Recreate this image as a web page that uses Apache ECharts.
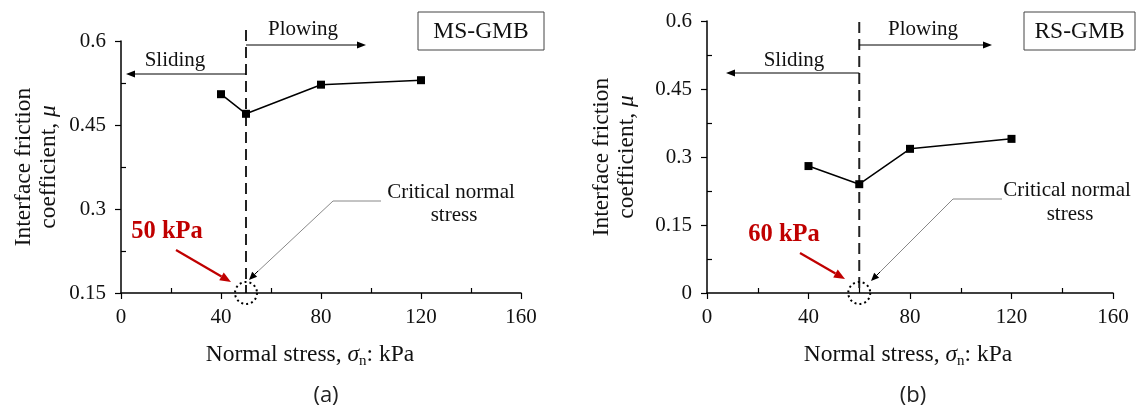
<!DOCTYPE html>
<html>
<head>
<meta charset="utf-8">
<script src="https://cdn.jsdelivr.net/npm/echarts@6/dist/echarts.min.js"></script>
<style>
  html, body { margin: 0; padding: 0; background: #fff; }
  #chart { width: 1137px; height: 409px; }
</style>
</head>
<body>
<div id="chart"></div>
<script>
// Interface friction coefficient vs normal stress, two geomembrane interfaces
const stressMS = [40, 50, 80, 120];
const frictionMS = [0.505, 0.47, 0.522, 0.53];
const stressRS = [40, 60, 80, 120];
const frictionRS = [0.28, 0.24, 0.318, 0.34];
const criticalMS = 50;   // kPa
const criticalRS = 60;   // kPa
const xTickValues = [0, 40, 80, 120, 160];
const xMinorTicks = [20, 60, 100, 140];
const yTicksMS = [0.15, 0.3, 0.45, 0.6];
const yMinorMS = [0.225, 0.375, 0.525];
const yTicksRS = [0, 0.15, 0.3, 0.45, 0.6];
const yMinorRS = [0.075, 0.225, 0.375, 0.525];

const SERIF = '"Liberation Serif", "Times New Roman", serif';
const INK = '#111';
const RED = '#c00000';

const chart = echarts.init(document.getElementById('chart'), null, { renderer: 'canvas' });

function mainX(gridIndex, padRight) {
  return {
    gridIndex, type: 'value', min: 0, max: 160, interval: 40,
    axisLine: { show: true, onZero: false, lineStyle: { color: '#000', width: 1.5 } },
    axisTick: { show: true, inside: false, length: 6, lineStyle: { color: '#000', width: 1.2 } },
    axisLabel: { fontFamily: SERIF, fontSize: 21, color: INK, margin: 14 },
    splitLine: { show: false },
    name: '{t|Normal stress, }{i|σ}{s|n}{t|: kPa}',
    nameLocation: 'middle', nameGap: 48,
    nameTextStyle: {
      padding: [0, padRight, 0, 0],
      rich: {
        t: { fontFamily: SERIF, fontSize: 23.5, color: INK, lineHeight: 28, verticalAlign: 'middle' },
        i: { fontFamily: SERIF, fontSize: 23.5, fontStyle: 'italic', color: INK, lineHeight: 28, verticalAlign: 'middle' },
        s: { fontFamily: SERIF, fontSize: 15, color: INK, lineHeight: 15, verticalAlign: 'bottom' }
      }
    }
  };
}
function minorX(gridIndex) {
  return {
    gridIndex, type: 'value', min: 0, max: 160, interval: 20, position: 'bottom',
    axisLine: { show: false },
    axisTick: { show: true, inside: true, length: 5, customValues: xMinorTicks, lineStyle: { color: '#000', width: 1.2 } },
    axisLabel: { show: false }, splitLine: { show: false }
  };
}
function mainY(gridIndex, min, gap) {
  return {
    gridIndex, type: 'value', min, max: 0.6, interval: 0.15,
    axisLine: { show: true, onZero: false, lineStyle: { color: '#000', width: 1.5 } },
    axisTick: { show: true, inside: false, length: 6, lineStyle: { color: '#000', width: 1.2 } },
    axisLabel: { fontFamily: SERIF, fontSize: 21, color: INK, margin: 15 },
    splitLine: { show: false },
    name: '{t|Interface friction}\n{t|coefficient, }{i|μ}',
    nameLocation: 'middle', nameRotate: 90, nameGap: gap,
    nameTextStyle: {
      align: 'center',
      rich: {
        t: { fontFamily: SERIF, fontSize: 23.5, color: INK, lineHeight: 25 },
        i: { fontFamily: SERIF, fontSize: 23.5, fontStyle: 'italic', color: INK, lineHeight: 25 }
      }
    }
  };
}
function minorY(gridIndex, min, values) {
  return {
    gridIndex, type: 'value', min, max: 0.6, interval: 0.075, position: 'left',
    axisLine: { show: false },
    axisTick: { show: true, inside: true, length: 5, customValues: values, lineStyle: { color: '#000', width: 1.2 } },
    axisLabel: { show: false }, splitLine: { show: false }
  };
}
function lineSeries(xi, yi, xs, ys) {
  return {
    type: 'line', xAxisIndex: xi, yAxisIndex: yi,
    data: xs.map((x, k) => [x, ys[k]]),
    symbol: 'rect', symbolSize: 8,
    lineStyle: { color: '#000', width: 1.5 },
    itemStyle: { color: '#000' },
    silent: true, animation: false
  };
}

chart.setOption({
  animation: false,
  grid: [
    { left: 121, top: 41, width: 400, height: 252, outerBoundsMode: 'none', containLabel: false },
    { left: 707, top: 21, width: 406, height: 272, outerBoundsMode: 'none', containLabel: false }
  ],
  xAxis: [mainX(0, 22), minorX(0), mainX(1, 4), minorX(1)],
  yAxis: [mainY(0, 0.15, 60), minorY(0, 0.15, yMinorMS), mainY(1, 0, 68), minorY(1, 0, yMinorRS)],
  series: [
    lineSeries(0, 0, stressMS, frictionMS),
    lineSeries(2, 2, stressRS, frictionRS)
  ]
});

// ---- annotation helpers ----
function arrow(x1, y1, x2, y2, color, width, headLen, headW) {
  const dx = x2 - x1, dy = y2 - y1;
  const len = Math.hypot(dx, dy);
  const ux = dx / len, uy = dy / len;
  const bx = x2 - ux * headLen, by = y2 - uy * headLen;
  const px = -uy * headW / 2, py = ux * headW / 2;
  return [
    { type: 'line', shape: { x1, y1, x2: bx, y2: by }, style: { stroke: color, lineWidth: width }, silent: true },
    { type: 'polygon', shape: { points: [[x2, y2], [bx + px, by + py], [bx - px, by - py]] }, style: { fill: color }, silent: true }
  ];
}
function label(x, y, text, opts) {
  return {
    type: 'text', x, y, silent: true,
    style: Object.assign({
      text, fontFamily: SERIF, fontSize: 21, fill: INK, align: 'center', verticalAlign: 'middle'
    }, opts || {})
  };
}

function panel(gridIdx, critical, baseY, o) {
  const xi = gridIdx * 2, yi = gridIdx * 2;
  const [cx, cy] = chart.convertToPixel({ xAxisIndex: xi, yAxisIndex: yi }, [critical, baseY]);
  const els = [];
  // regime boundary at the critical normal stress
  els.push({ type: 'line', shape: { x1: cx, y1: o.dashTop, x2: cx, y2: cy }, silent: true,
    style: { stroke: '#222', lineWidth: 2, lineDash: [11, 6] } });
  els.push(...arrow(cx, o.plowY, o.plowEnd, o.plowY, '#000', 1, 9, 7));
  els.push(label(o.plowTx, o.plowTy, 'Plowing'));
  els.push(...arrow(cx, o.slideY, o.slideEnd, o.slideY, '#000', 1, 9, 7));
  els.push(label(o.slideTx, o.slideTy, 'Sliding'));
  // interface tag
  els.push({ type: 'rect', shape: { x: o.box[0], y: o.box[1], width: o.box[2], height: o.box[3] }, silent: true,
    style: { fill: '#fff', stroke: '#444', lineWidth: 1 } });
  els.push(label(o.box[0] + o.box[2] / 2, o.box[1] + o.box[3] / 2 + 1, o.tag, { fontSize: 23.5 }));
  // critical normal stress callout
  els.push(label(o.critTx, o.critTy, 'Critical normal'));
  els.push(label(o.stressTx, o.stressTy, 'stress'));
  els.push({ type: 'polyline', shape: { points: [[o.lead[0], o.lead[1]], [o.lead[2], o.lead[1]], [o.tip[0] + 5, o.tip[1] - 5]] },
    silent: true, style: { stroke: '#888', lineWidth: 1, fill: null } });
  els.push(...arrow(o.tip[0] + 9, o.tip[1] - 9, o.tip[0], o.tip[1], '#000', 1, 8, 7));
  els.push({ type: 'circle', shape: { cx, cy, r: 11 }, silent: true,
    style: { fill: null, stroke: '#000', lineWidth: 2, lineDash: [2, 3] } });
  els.push(label(o.kpaX, o.kpaY, critical + ' kPa', { fill: RED, fontWeight: 'bold', fontSize: 24.5 }));
  els.push(...arrow(o.red[0], o.red[1], o.red[2], o.red[3], RED, 2.2, 11, 9));
  return els;
}

const graphics = [
  ...panel(0, criticalMS, 0.15, {
    dashTop: 30, plowY: 45, plowEnd: 366, plowTx: 303, plowTy: 29,
    slideY: 74, slideEnd: 126, slideTx: 175, slideTy: 60,
    box: [418, 12, 126, 38], tag: 'MS-GMB',
    critTx: 451, critTy: 192, stressTx: 454, stressTy: 215,
    lead: [381, 201, 333], tip: [249, 280],
    kpaX: 167, kpaY: 232, red: [176, 250, 231, 282]
  }),
  ...panel(1, criticalRS, 0, {
    dashTop: 22, plowY: 45, plowEnd: 992, plowTx: 923, plowTy: 29,
    slideY: 73, slideEnd: 726, slideTx: 794, slideTy: 60,
    box: [1024, 12, 111, 38], tag: 'RS-GMB',
    critTx: 1067, critTy: 190, stressTx: 1070, stressTy: 214,
    lead: [1002, 199, 953], tip: [871, 281],
    kpaX: 784, kpaY: 235, red: [800, 253, 845, 279]
  }),
  label(326, 396, '(a)', { fontFamily: '"Open Sans", "Noto Sans", sans-serif', fontSize: 22, fill: '#222' }),
  label(913, 396, '(b)', { fontFamily: '"Open Sans", "Noto Sans", sans-serif', fontSize: 22, fill: '#222' })
];

chart.setOption({ graphic: { elements: graphics } });
</script>
</body>
</html>
